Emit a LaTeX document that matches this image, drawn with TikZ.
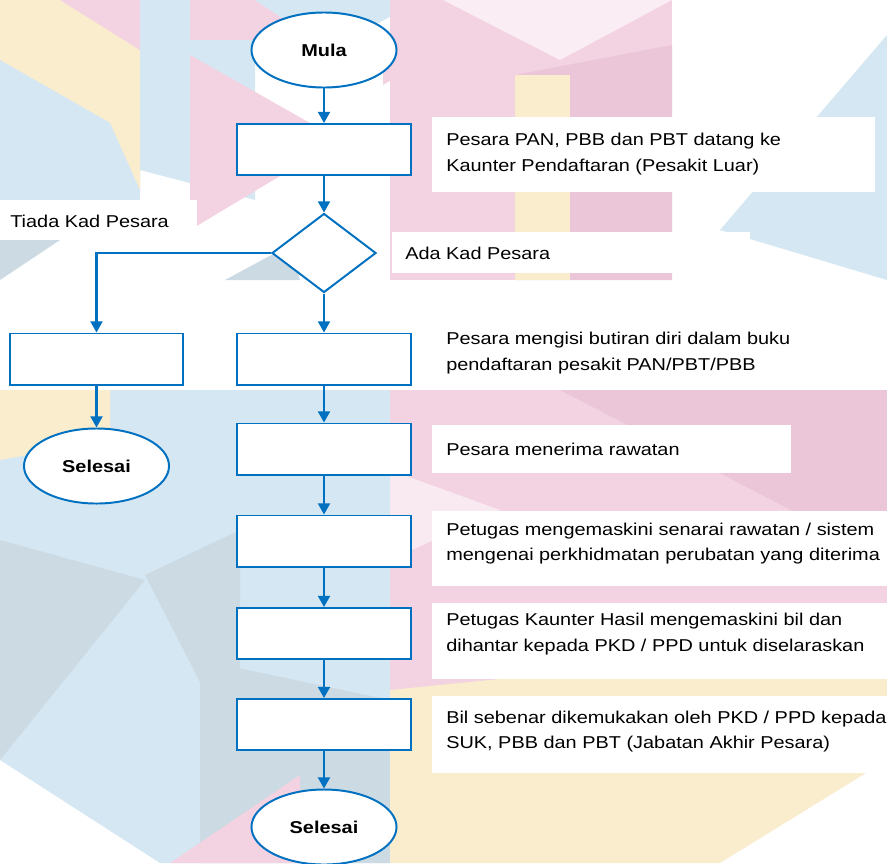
\documentclass[tikz,border=0pt]{standalone}
\usepackage{fontspec}
\setmainfont{Liberation Sans}[FakeStretch=1.16]
\usetikzlibrary{shapes.geometric,arrows.meta}
\definecolor{flowblue}{RGB}{0,112,192}
\definecolor{bgpink}{HTML}{F3D2E2}
\definecolor{bgpinkdk}{HTML}{EBC6D8}
\definecolor{bgblue}{HTML}{D5E7F2}
\definecolor{bggrey}{HTML}{CCDAE4}
\definecolor{bgyellow}{HTML}{F9EDCD}
\begin{document}
\begin{tikzpicture}[x=0.025cm,y=0.025cm]
\tikzstyle{every node}+=[inner sep=0pt, font=\fontsize{12.2}{18.4}\selectfont]
\tikzstyle{stepbox}=[draw=flowblue, line width=1.4pt, fill=white, minimum width=4.325cm, minimum height=1.275cm]
\tikzstyle{term}=[ellipse, draw=flowblue, line width=1.4pt, fill=white, minimum width=3.625cm, minimum height=1.875cm, font=\fontsize{12.2}{14}\selectfont\bfseries]
\tikzstyle{choice}=[diamond, draw=flowblue, line width=1.4pt, fill=white, minimum width=2.6cm, minimum height=1.975cm]
\tikzstyle{txt}=[anchor=west, align=left]
\tikzstyle{flow}=[draw=flowblue, line width=1.5pt, -{Triangle[length=0.28cm,width=0.3cm]}]
\useasboundingbox (0,0) rectangle (887,-863);
% background
\fill[white] (0,0) rectangle (887,-863);
\fill[bgyellow] (0,0) -- (140,0) -- (140,-190) -- (0,-110) -- cycle;
\fill[bgblue] (0,-60) -- (140,-140) -- (140,-200) -- (0,-240) -- cycle;
\fill[bgpink] (60,0) -- (140,0) -- (140,-50) -- cycle;
\fill[bgblue] (140,0) -- (255,0) -- (255,-200) -- (140,-170) -- cycle;
\fill[bgyellow] (100,-100) -- (140,-120) -- (140,-190) -- cycle;
\fill[bgpink] (190,0) -- (260,0) -- (330,-40) -- (190,-40) -- cycle;
\fill[bgpink] (190,-55) -- (340,-140) -- (190,-230) -- cycle;
\fill[bgblue] (255,0) -- (420,0) -- (330,-50) -- cycle;
\fill[bgpink] (383,-45) -- (425,-60) -- (383,-85) -- cycle;
\fill[bggrey] (0,-240) -- (60,-240) -- (0,-280) -- cycle;
\fill[bggrey] (225,-280) -- (290,-245) -- (300,-280) -- cycle;
\fill[bgpink] (390,0) -- (672,0) -- (672,-280) -- (390,-280) -- cycle;
\fill[bgpinkdk] (515,-75) -- (672,-45) -- (672,-280) -- (515,-280) -- cycle;
\fill[bgyellow] (515,-75) -- (570,-75) -- (570,-280) -- (515,-280) -- cycle;
\fill[white!60!bgpink] (443,0) -- (672,0) -- (560,-60) -- cycle;
\fill[bgblue] (887,-35) -- (887,-280) -- (720,-230) -- cycle;
\fill[bgblue] (0,-390) -- (390,-390) -- (390,-863) -- (160,-863) -- (0,-760) -- cycle;
\fill[bgyellow] (0,-390) -- (110,-390) -- (110,-440) -- (0,-460) -- cycle;
\fill[bggrey] (0,-540) -- (145,-580) -- (0,-760) -- cycle;
\fill[bggrey] (145,-575) -- (240,-530) -- (240,-760) -- cycle;
\fill[bggrey] (200,-660) -- (390,-700) -- (390,-863) -- (200,-863) -- cycle;
\fill[bgpink] (170,-863) -- (300,-775) -- (300,-863) -- cycle;
\fill[bgpink] (390,-390) -- (887,-390) -- (887,-700) -- (390,-700) -- cycle;
\fill[bgpinkdk] (560,-390) -- (887,-390) -- (887,-560) -- cycle;
\fill[white!50!bgpink] (390,-470) -- (500,-510) -- (390,-560) -- cycle;
\fill[bgyellow] (390,-690) -- (887,-640) -- (887,-760) -- (720,-863) -- (390,-863) -- cycle;
% white panels behind the texts
\fill[white] (432,-117) rectangle (875,-192);
\fill[white] (0,-200) rectangle (197,-240);
\fill[white] (392,-232) rectangle (750,-273);
\fill[white] (432,-318) rectangle (887,-390);
\fill[white] (432,-425) rectangle (791,-473);
\fill[white] (432,-511) rectangle (887,-586);
\fill[white] (432,-603) rectangle (887,-679);
\fill[white] (432,-696) rectangle (887,-773);
% flowchart
\node[term] (mula) at (324,-50) {Mula};
\node[stepbox] (datang) at (324,-149.5) {};
\node[choice] (kad) at (324,-253) {};
\node[stepbox] (tiada) at (96.5,-359) {};
\node[term] (selesaiA) at (96.5,-466) {Selesai};
\node[stepbox] (isi) at (324,-359) {};
\node[stepbox] (rawat) at (324,-449) {};
\node[stepbox] (kemaskini) at (324,-541) {};
\node[stepbox] (bil) at (324,-633.5) {};
\node[stepbox] (hantar) at (324,-724.5) {};
\node[term] (selesaiB) at (324,-827) {Selesai};
\draw[flow] (mula) -- (datang);
\draw[flow] (datang) -- (kad);
\draw[flow] (kad.west) -| (tiada.north);
\draw[flow] (tiada) -- (selesaiA);
\draw[flow] (kad) -- (isi);
\draw[flow] (isi) -- (rawat);
\draw[flow] (rawat) -- (kemaskini);
\draw[flow] (kemaskini) -- (bil);
\draw[flow] (bil) -- (hantar);
\draw[flow] (hantar) -- (selesaiB);
% labels
\node[txt] (lblTiada) at (10,-221) {Tiada Kad Pesara};
\node[txt] (lblAda) at (405,-253) {Ada Kad Pesara};
\node[txt] (t1) at (446,-154) {Pesara PAN, PBB dan PBT datang ke\\Kaunter Pendaftaran (Pesakit Luar)};
\node[txt] (t2) at (446,-353) {Pesara mengisi butiran diri dalam buku\\pendaftaran pesakit PAN/PBT/PBB};
\node[txt] (t3) at (446,-449) {Pesara menerima rawatan};
\node[txt] (t4) at (446,-543.5) {Petugas mengemaskini senarai rawatan / sistem\\mengenai perkhidmatan perubatan yang diterima};
\node[txt] (t5) at (446,-634) {Petugas Kaunter Hasil mengemaskini bil dan\\dihantar kepada PKD / PPD untuk diselaraskan};
\node[txt] (t6) at (446,-731.5) {Bil sebenar dikemukakan oleh PKD / PPD kepada\\SUK, PBB dan PBT (Jabatan Akhir Pesara)};
\end{tikzpicture}
\end{document}
